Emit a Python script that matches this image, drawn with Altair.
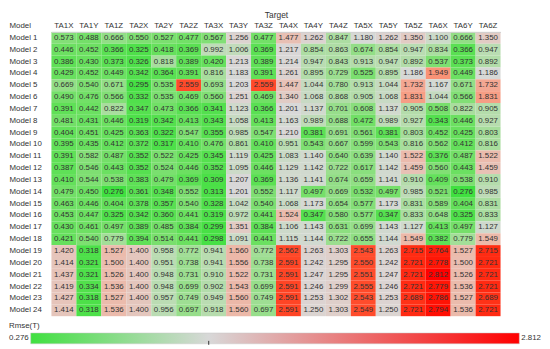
import altair as alt
import pandas as pd

models = ["Model 1", "Model 2", "Model 3", "Model 4", "Model 5", "Model 6",
          "Model 7", "Model 8", "Model 9", "Model 10", "Model 11", "Model 12",
          "Model 13", "Model 14", "Model 15", "Model 16", "Model 17", "Model 18",
          "Model 19", "Model 20", "Model 21", "Model 22", "Model 23", "Model 24"]
targets = ["TA1X", "TA1Y", "TA1Z", "TA2X", "TA2Y", "TA2Z", "TA3X", "TA3Y", "TA3Z",
           "TA4X", "TA4Y", "TA4Z", "TA5X", "TA5Y", "TA5Z", "TA6X", "TA6Y", "TA6Z"]

ta1x = [0.573, 0.446, 0.386, 0.429, 0.669, 0.490, 0.391, 0.481, 0.404, 0.395, 0.391, 0.387,
        0.410, 0.479, 0.463, 0.453, 0.430, 0.421, 1.420, 1.414, 1.437, 1.419, 1.427, 1.414]
ta1y = [0.488, 0.452, 0.430, 0.452, 0.540, 0.476, 0.442, 0.431, 0.451, 0.435, 0.582, 0.546,
        0.544, 0.450, 0.446, 0.447, 0.461, 0.540, 0.318, 0.321, 0.321, 0.334, 0.318, 0.318]
ta1z = [0.666, 0.366, 0.373, 0.449, 0.671, 0.566, 0.822, 0.446, 0.425, 0.412, 0.487, 0.443,
        0.538, 0.276, 0.404, 0.325, 0.497, 0.779, 1.527, 1.500, 1.526, 1.536, 1.527, 1.536]
ta2x = [0.550, 0.325, 0.326, 0.342, 0.295, 0.332, 0.347, 0.319, 0.363, 0.372, 0.352, 0.352,
        0.383, 0.361, 0.378, 0.342, 0.389, 0.394, 1.400, 1.400, 1.400, 1.400, 1.400, 1.400]
ta2y = [0.527, 0.418, 0.818, 0.364, 0.535, 0.535, 0.473, 0.342, 0.322, 0.317, 0.522, 0.524,
        0.479, 0.348, 0.357, 0.360, 0.485, 0.514, 0.958, 0.951, 0.948, 0.948, 0.957, 0.956]
ta2z = [0.477, 0.369, 0.389, 0.391, 2.559, 0.469, 0.366, 0.413, 0.547, 0.410, 0.425, 0.446,
        0.369, 0.552, 0.540, 0.441, 0.384, 0.441, 0.772, 0.738, 0.731, 0.699, 0.749, 0.697]
ta3x = [0.567, 0.992, 0.420, 0.816, 0.693, 0.560, 0.341, 0.343, 0.355, 0.476, 0.345, 0.352,
        0.309, 0.313, 0.328, 0.319, 0.299, 0.298, 0.941, 0.941, 0.910, 0.902, 0.949, 0.918]
ta3y = [1.256, 1.006, 1.213, 1.183, 1.203, 1.251, 1.123, 1.058, 0.985, 0.861, 1.119, 1.095,
        1.207, 1.201, 1.042, 0.972, 1.351, 1.091, 1.560, 1.556, 1.522, 1.543, 1.560, 1.560]
ta3z = [0.477, 0.369, 0.389, 0.391, 2.559, 0.469, 0.366, 0.413, 0.547, 0.410, 0.425, 0.446,
        0.369, 0.552, 0.540, 0.441, 0.384, 0.441, 0.772, 0.738, 0.731, 0.699, 0.749, 0.697]
ta4x = [1.477, 1.217, 1.214, 1.261, 1.447, 1.340, 1.201, 1.163, 1.210, 0.951, 1.083, 1.129,
        1.136, 1.117, 1.068, 1.524, 1.106, 1.115, 2.562, 2.591, 2.591, 2.591, 2.591, 2.591]
ta4y = [1.262, 0.854, 0.947, 0.895, 1.044, 1.068, 1.137, 0.989, 0.381, 0.543, 1.140, 1.142,
        1.141, 0.497, 1.173, 0.347, 1.143, 1.144, 1.263, 1.242, 1.247, 1.246, 1.253, 1.250]
ta4z = [0.847, 0.863, 0.843, 0.729, 0.780, 0.868, 0.701, 0.688, 0.691, 0.667, 0.640, 0.722,
        0.674, 0.669, 0.654, 0.580, 0.631, 0.722, 1.303, 1.295, 1.295, 1.299, 1.302, 1.303]
ta5x = [1.180, 0.674, 0.913, 0.525, 0.913, 0.905, 0.608, 0.472, 0.561, 0.599, 0.639, 0.617,
        0.659, 0.532, 0.577, 0.577, 0.699, 0.655, 2.543, 2.550, 2.551, 2.555, 2.543, 2.549]
ta5y = [1.262, 0.854, 0.947, 0.895, 1.044, 1.068, 1.137, 0.989, 0.381, 0.543, 1.140, 1.142,
        1.141, 0.497, 1.173, 0.347, 1.143, 1.144, 1.263, 1.242, 1.247, 1.246, 1.253, 1.250]
ta5z = [1.350, 0.947, 0.892, 1.186, 1.732, 1.831, 0.905, 0.927, 0.803, 0.816, 1.522, 1.459,
        0.910, 0.985, 0.831, 0.833, 1.127, 1.549, 2.715, 2.721, 2.721, 2.721, 2.689, 2.721]
ta6x = [1.100, 0.834, 0.537, 1.949, 1.167, 1.044, 0.508, 0.343, 0.452, 0.562, 0.376, 0.560,
        0.409, 0.521, 0.589, 0.648, 0.413, 0.382, 2.764, 2.778, 2.812, 2.779, 2.786, 2.794]
ta6y = [0.666, 0.366, 0.373, 0.449, 0.671, 0.566, 0.822, 0.446, 0.425, 0.412, 0.487, 0.443,
        0.538, 0.276, 0.404, 0.325, 0.497, 0.779, 1.527, 1.500, 1.526, 1.536, 1.527, 1.536]
ta6z = [1.350, 0.947, 0.892, 1.186, 1.732, 1.831, 0.905, 0.927, 0.803, 0.816, 1.522, 1.459,
        0.910, 0.985, 0.831, 0.833, 1.127, 1.549, 2.715, 2.721, 2.721, 2.721, 2.689, 2.721]

columns = [ta1x, ta1y, ta1z, ta2x, ta2y, ta2z, ta3x, ta3y, ta3z,
           ta4x, ta4y, ta4z, ta5x, ta5y, ta5z, ta6x, ta6y, ta6z]

# colour scale anchors (min, midpoint marker, max)
scale_min = 0.276
scale_mid = 1.2
scale_max = 2.812
legend_title = "Rmse(T)"
color_low = "#40e040"
color_mid = "#d8d8d8"
color_high = "#ff0000"

rows = []
for t, col in zip(targets, columns):
    for m, v in zip(models, col):
        rows.append({"target": t, "model": m, "value": v})
df = pd.DataFrame(rows)

FONT = "Liberation Sans"
TXT = "#333333"
W, H = 455, 288

base = alt.Chart(df).encode(
    x=alt.X("target:N", sort=targets,
            scale=alt.Scale(paddingInner=0, paddingOuter=0),
            axis=alt.Axis(orient="top", title="Target", titleFont=FONT, titleFontSize=8.5,
                          titleFontWeight="normal", titleColor=TXT, titlePadding=3,
                          labelAngle=0, labelFont=FONT, labelFontSize=8, labelColor=TXT,
                          labelPadding=2, ticks=False, domain=True, domainColor="#d0d0d0",
                          domainWidth=1)),
    y=alt.Y("model:N", sort=models,
            scale=alt.Scale(paddingInner=0, paddingOuter=0),
            axis=alt.Axis(title="Model", titleAngle=0, titleAlign="left", titleBaseline="middle",
                          titleX=-43, titleY=-6, titleFont=FONT, titleFontSize=8,
                          titleFontWeight="normal", titleColor=TXT,
                          labelAlign="left", labelPadding=43, labelFont=FONT, labelFontSize=8,
                          labelColor=TXT, ticks=False, domain=False)),
)

rect = base.mark_rect().encode(
    color=alt.Color("value:Q",
                    scale=alt.Scale(domain=[scale_min, scale_mid, scale_max],
                                    range=[color_low, color_mid, color_high]),
                    legend=None)
)
text = base.mark_text(font=FONT, fontSize=8, color=TXT).encode(
    text=alt.Text("value:Q", format=".3f")
)
heat = alt.layer(rect, text)

# colour legend drawn below the table (its own x scale)
mid_off = (scale_mid - scale_min) / (scale_max - scale_min)
grad = alt.LinearGradient(gradient="linear", x1=0, x2=1, y1=0, y2=0,
                          stops=[alt.GradientStop(color=color_low, offset=0),
                                 alt.GradientStop(color=color_mid, offset=mid_off),
                                 alt.GradientStop(color=color_high, offset=1)])
leg_df = pd.DataFrame({"lo": [scale_min], "hi": [scale_max], "mid": [scale_mid],
                       "title": [legend_title]})
xs = alt.Scale(domain=[scale_min, scale_max], range=[-21, 474])
lx_lo = alt.X("lo:Q", scale=xs, axis=None)
lbase = alt.Chart(leg_df)
bar = lbase.mark_rect(fill=grad, stroke="#c8c8c8", strokeWidth=0.5).encode(
    x=lx_lo, x2="hi:Q", y=alt.value(H + 17), y2=alt.value(H + 28))
tick = lbase.mark_rule(color="#333333", strokeWidth=1).encode(
    x=alt.X("mid:Q", scale=xs, axis=None), y=alt.value(H + 25), y2=alt.value(H + 29))
lab_lo = lbase.mark_text(font=FONT, fontSize=8, color=TXT, align="right", baseline="middle",
                         dx=-2).encode(
    x=lx_lo, y=alt.value(H + 22.5), text=alt.Text("lo:Q", format=".3f"))
lab_hi = lbase.mark_text(font=FONT, fontSize=8, color=TXT, align="left", baseline="middle",
                         dx=2).encode(
    x=alt.X("hi:Q", scale=xs, axis=None), y=alt.value(H + 22.5),
    text=alt.Text("hi:Q", format=".3f"))
ttl = lbase.mark_text(font=FONT, fontSize=8, color=TXT, align="left", baseline="middle",
                      dx=-22).encode(
    x=lx_lo, y=alt.value(H + 10), text="title:N")
legend = alt.layer(bar, tick, lab_lo, lab_hi, ttl)

chart = alt.layer(heat, legend).resolve_scale(x="independent").resolve_axis(
    x="independent").properties(
    width=W, height=H,
    padding={"left": 0, "top": 0, "right": 0, "bottom": 0}
).configure_view(stroke=None)

chart.save("out.html", embed_options={"renderer": "svg", "actions": False})
